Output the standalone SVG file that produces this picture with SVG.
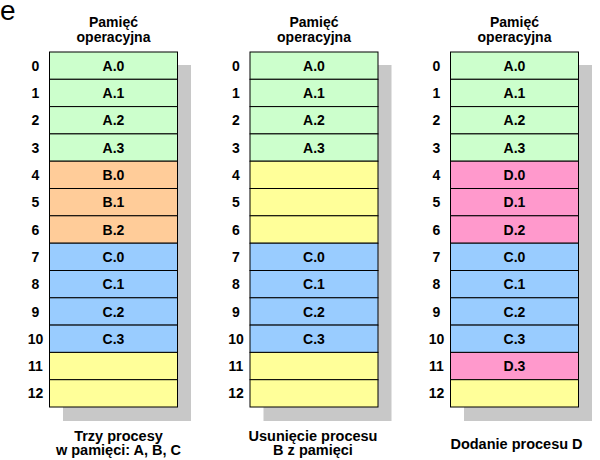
<svg xmlns="http://www.w3.org/2000/svg" width="600" height="460" viewBox="0 0 600 460">
<style>
text{font-family:"Liberation Sans",Arial,sans-serif;font-weight:bold;font-size:14px;fill:#000}
.c{text-anchor:middle}
.cap{font-size:14.5px}
.cell{stroke:#000;stroke-width:1}
.sh{fill:#c8c8c8}
.A{fill:#ccffcc}.B{fill:#ffcc99}.C{fill:#99ccff}.D{fill:#ff99cc}.E{fill:#ffff99}
</style>
<rect width="600" height="460" fill="#fff"/>
<text x="0" y="20" style="font-weight:normal;font-size:28px">e</text>
<g id="connectors"/>
<defs>
<g id="idx">
<text class="c" x="-14" y="70.7">0</text><text class="c" x="-14" y="98">1</text><text class="c" x="-14" y="125.3">2</text><text class="c" x="-14" y="152.6">3</text><text class="c" x="-14" y="179.9">4</text><text class="c" x="-14" y="207.2">5</text><text class="c" x="-14" y="234.5">6</text><text class="c" x="-14" y="261.9">7</text><text class="c" x="-14" y="289.2">8</text><text class="c" x="-14" y="316.5">9</text><text class="c" x="-14" y="343.8">10</text><text class="c" x="-14" y="371.1">11</text><text class="c" x="-14" y="398.4">12</text>
<text class="c" x="64" y="26.7">Pamięć</text><text class="c" x="64" y="41.5">operacyjna</text>
<rect class="sh" x="13.5" y="65" width="128" height="356"/>
</g>
</defs>
<g id="col1" transform="translate(49.5,0)">
<use href="#idx"/>
<g id="c1r0"><rect class="cell A" x="0" y="52" width="128" height="27.3"/><text class="c" x="64" y="70.7">A.0</text></g>
<g id="c1r1"><rect class="cell A" x="0" y="79.3" width="128" height="27.3"/><text class="c" x="64" y="98">A.1</text></g>
<g id="c1r2"><rect class="cell A" x="0" y="106.6" width="128" height="27.3"/><text class="c" x="64" y="125.3">A.2</text></g>
<g id="c1r3"><rect class="cell A" x="0" y="133.9" width="128" height="27.3"/><text class="c" x="64" y="152.6">A.3</text></g>
<g id="c1r4"><rect class="cell B" x="0" y="161.2" width="128" height="27.3"/><text class="c" x="64" y="179.9">B.0</text></g>
<g id="c1r5"><rect class="cell B" x="0" y="188.5" width="128" height="27.3"/><text class="c" x="64" y="207.2">B.1</text></g>
<g id="c1r6"><rect class="cell B" x="0" y="215.8" width="128" height="27.4"/><text class="c" x="64" y="234.5">B.2</text></g>
<g id="c1r7"><rect class="cell C" x="0" y="243.2" width="128" height="27.3"/><text class="c" x="64" y="261.9">C.0</text></g>
<g id="c1r8"><rect class="cell C" x="0" y="270.5" width="128" height="27.3"/><text class="c" x="64" y="289.2">C.1</text></g>
<g id="c1r9"><rect class="cell C" x="0" y="297.8" width="128" height="27.3"/><text class="c" x="64" y="316.5">C.2</text></g>
<g id="c1r10"><rect class="cell C" x="0" y="325.1" width="128" height="27.3"/><text class="c" x="64" y="343.8">C.3</text></g>
<g id="c1r11"><rect class="cell E" x="0" y="352.4" width="128" height="27.3"/></g>
<g id="c1r12"><rect class="cell E" x="0" y="379.7" width="128" height="27.3"/></g>
<text class="c cap" x="69" y="440.5">Trzy procesy</text><text class="c cap" x="69" y="455">w pamięci: A, B, C</text>
</g>
<g id="col2" transform="translate(250,0)">
<use href="#idx"/>
<g id="c2r0"><rect class="cell A" x="0" y="52" width="128" height="27.3"/><text class="c" x="64" y="70.7">A.0</text></g>
<g id="c2r1"><rect class="cell A" x="0" y="79.3" width="128" height="27.3"/><text class="c" x="64" y="98">A.1</text></g>
<g id="c2r2"><rect class="cell A" x="0" y="106.6" width="128" height="27.3"/><text class="c" x="64" y="125.3">A.2</text></g>
<g id="c2r3"><rect class="cell A" x="0" y="133.9" width="128" height="27.3"/><text class="c" x="64" y="152.6">A.3</text></g>
<g id="c2r4"><rect class="cell E" x="0" y="161.2" width="128" height="27.3"/></g>
<g id="c2r5"><rect class="cell E" x="0" y="188.5" width="128" height="27.3"/></g>
<g id="c2r6"><rect class="cell E" x="0" y="215.8" width="128" height="27.4"/></g>
<g id="c2r7"><rect class="cell C" x="0" y="243.2" width="128" height="27.3"/><text class="c" x="64" y="261.9">C.0</text></g>
<g id="c2r8"><rect class="cell C" x="0" y="270.5" width="128" height="27.3"/><text class="c" x="64" y="289.2">C.1</text></g>
<g id="c2r9"><rect class="cell C" x="0" y="297.8" width="128" height="27.3"/><text class="c" x="64" y="316.5">C.2</text></g>
<g id="c2r10"><rect class="cell C" x="0" y="325.1" width="128" height="27.3"/><text class="c" x="64" y="343.8">C.3</text></g>
<g id="c2r11"><rect class="cell E" x="0" y="352.4" width="128" height="27.3"/></g>
<g id="c2r12"><rect class="cell E" x="0" y="379.7" width="128" height="27.3"/></g>
<text class="c cap" x="63" y="440.5">Usunięcie procesu</text><text class="c cap" x="63" y="455">B z pamięci</text>
</g>
<g id="col3" transform="translate(450.5,0)">
<use href="#idx"/>
<g id="c3r0"><rect class="cell A" x="0" y="52" width="128" height="27.3"/><text class="c" x="64" y="70.7">A.0</text></g>
<g id="c3r1"><rect class="cell A" x="0" y="79.3" width="128" height="27.3"/><text class="c" x="64" y="98">A.1</text></g>
<g id="c3r2"><rect class="cell A" x="0" y="106.6" width="128" height="27.3"/><text class="c" x="64" y="125.3">A.2</text></g>
<g id="c3r3"><rect class="cell A" x="0" y="133.9" width="128" height="27.3"/><text class="c" x="64" y="152.6">A.3</text></g>
<g id="c3r4"><rect class="cell D" x="0" y="161.2" width="128" height="27.3"/><text class="c" x="64" y="179.9">D.0</text></g>
<g id="c3r5"><rect class="cell D" x="0" y="188.5" width="128" height="27.3"/><text class="c" x="64" y="207.2">D.1</text></g>
<g id="c3r6"><rect class="cell D" x="0" y="215.8" width="128" height="27.4"/><text class="c" x="64" y="234.5">D.2</text></g>
<g id="c3r7"><rect class="cell C" x="0" y="243.2" width="128" height="27.3"/><text class="c" x="64" y="261.9">C.0</text></g>
<g id="c3r8"><rect class="cell C" x="0" y="270.5" width="128" height="27.3"/><text class="c" x="64" y="289.2">C.1</text></g>
<g id="c3r9"><rect class="cell C" x="0" y="297.8" width="128" height="27.3"/><text class="c" x="64" y="316.5">C.2</text></g>
<g id="c3r10"><rect class="cell C" x="0" y="325.1" width="128" height="27.3"/><text class="c" x="64" y="343.8">C.3</text></g>
<g id="c3r11"><rect class="cell D" x="0" y="352.4" width="128" height="27.3"/><text class="c" x="64" y="371.1">D.3</text></g>
<g id="c3r12"><rect class="cell E" x="0" y="379.7" width="128" height="27.3"/></g>
<text class="c cap" x="66" y="449">Dodanie procesu D</text>
</g>
</svg>
